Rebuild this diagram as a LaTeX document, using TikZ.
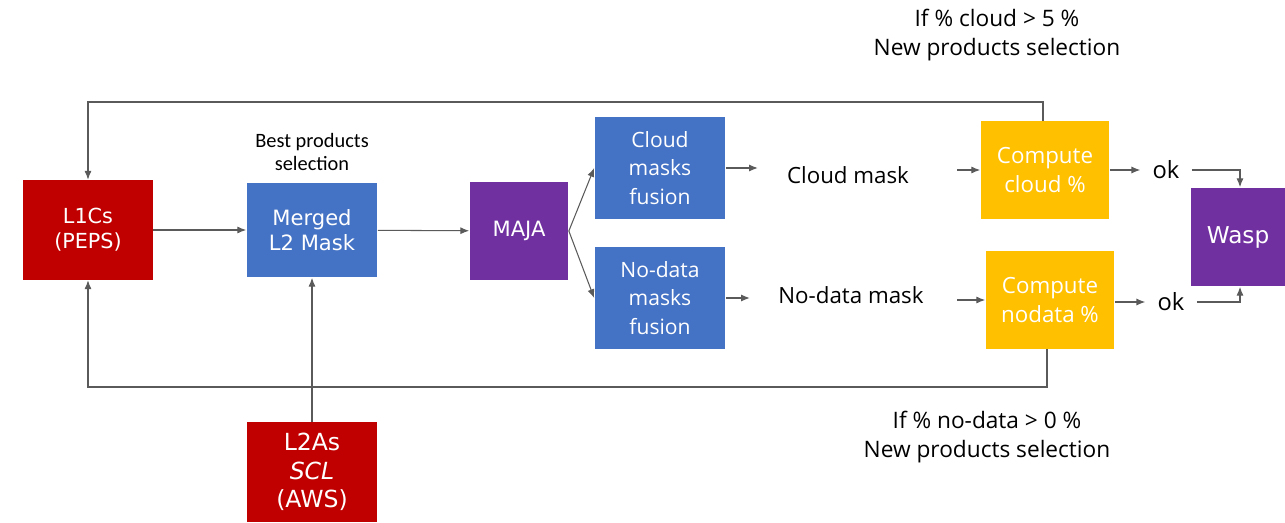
\documentclass[tikz,border=0pt]{standalone}
\usepackage{fontspec}
\setmainfont{Open Sans}
\newfontfamily\boxfont{DejaVu Sans}
\newfontfamily\notefont{Carlito}
\usetikzlibrary{arrows.meta}

\definecolor{prodred}{HTML}{C00000}
\definecolor{maskblue}{HTML}{4472C4}
\definecolor{procpurple}{HTML}{7030A0}
\definecolor{statyellow}{HTML}{FFC000}
\definecolor{wire}{HTML}{5A5A5A}

\tikzset{
    block/.style={inner sep=0pt, align=center, text=white},
    prodbox/.style={block, fill=prodred, minimum width=2.6cm, minimum height=2cm},
    maskbox/.style={block, fill=maskblue, minimum width=2.62cm, minimum height=2.04cm},
    procbox/.style={block, fill=procpurple},
    statbox/.style={block, fill=statyellow, minimum width=2.58cm, minimum height=1.96cm},
    label/.style={inner sep=0pt, align=center, text=black},
    flow/.style={draw=wire, line width=0.6pt, -{Latex[length=5pt,width=4pt]}},
    feed/.style={draw=wire, line width=0.6pt},
}

\begin{document}
\begin{tikzpicture}[x=0.02cm, y=-0.02cm]
        \useasboundingbox (0,0) rectangle (1285,523);

        % input products
        \node[prodbox, font=\boxfont\fontsize{11.8}{14.2}\selectfont] (l1c) at (88,230) {L1Cs\\(PEPS)};
        \node[prodbox, font=\boxfont\fontsize{13.4}{16.4}\selectfont] (l2a) at (312,472) {L2As\\\textit{SCL}\\(AWS)};

        % processing chain
        \node[maskbox, minimum height=1.9cm, font=\boxfont\fontsize{12}{14.2}\selectfont] (merged) at (312,230) {Merged\\L2 Mask};
        \node[procbox, minimum width=1.98cm, minimum height=1.96cm, font=\boxfont\fontsize{12}{14}\selectfont] (maja) at (519,231) {MAJA};
        \node[maskbox, font=\fontsize{12}{16.4}\selectfont] (cfus) at (660,168) {Cloud\\masks\\fusion};
        \node[maskbox, font=\fontsize{12}{16.4}\selectfont] (nfus) at (660,298) {No-data\\masks\\fusion};

        \node[label, font=\fontsize{12.7}{16}\selectfont] (cmask) at (848,175) {Cloud mask};
        \node[label, font=\fontsize{12.7}{16}\selectfont] (nmask) at (851,295) {No-data mask};

        \node[statbox, font=\fontsize{12.7}{16.4}\selectfont] (ccloud) at (1045,170) {Compute\\cloud \%};
        \node[statbox, font=\fontsize{12.7}{16.4}\selectfont] (cnodata) at (1050,300) {Compute\\nodata \%};

        \node[label, inner xsep=0.24cm, font=\fontsize{13.5}{16}\selectfont] (ok1) at (1166,170) {ok};
        \node[label, inner xsep=0.24cm, font=\fontsize{13.5}{16}\selectfont] (ok2) at (1171,302) {ok};

        \node[procbox, minimum width=1.88cm, minimum height=1.98cm, font=\boxfont\fontsize{13.2}{16}\selectfont] (wasp) at (1238,237) {Wasp};

        % notes
        \node[label, font=\notefont\fontsize{11.6}{13.6}\selectfont] (best) at (312,152) {Best products\\selection};
        \node[label, font=\fontsize{12.9}{17}\selectfont] (cloudnote) at (997,35) {If \% cloud > 5 \%\\New products selection};
        \node[label, font=\fontsize{12.9}{17}\selectfont] (nodatanote) at (987,437) {If \% no-data > 0 \%\\New products selection};

        \coordinate (topline) at (0,102);
        \coordinate (botline) at (0,387);

        % main flow
        \draw[flow] (l1c) -- (merged);
        \draw[flow] (merged) -- (maja);
        \draw[flow] (l2a) -- (merged);
        \draw[flow] (maja.east) -- (cfus.west);
        \draw[flow] (maja.east) -- (nfus.west);
        \draw[flow] (cfus.east) -- ++(32,0);
        \draw[flow] (nfus.east) -- ++(24,0);
        \draw[flow] ([xshift=-0.46cm]ccloud.west) -- (ccloud.west);
        \draw[flow] ([xshift=-0.56cm]cnodata.west) -- (cnodata.west);
        \draw[flow] (ccloud) -- (ok1);
        \draw[flow] (cnodata.east |- ok2) -- (ok2);
        \draw[flow] (ok1.east) -| ([xshift=0.04cm]wasp.north);
        \draw[flow] (ok2.east) -| ([xshift=0.04cm]wasp.south);

        % new selection loops
        \draw[flow] ([xshift=-0.04cm]ccloud.north) |- (topline -| l1c.north) -- (l1c.north);
        \draw[flow] ([xshift=-0.06cm]cnodata.south) |- (botline -| l1c.south) -- (l1c.south);
\end{tikzpicture}
\end{document}
